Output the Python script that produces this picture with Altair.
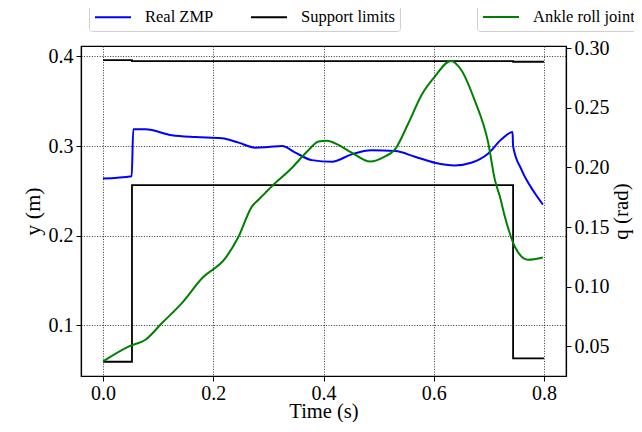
import altair as alt
import pandas as pd

# Real ZMP (left axis, m)
zmp_t = [0.0, 0.052, 0.0548, 0.077, 0.125, 0.168, 0.216, 0.246, 0.276, 0.300,
         0.325, 0.349, 0.379, 0.415, 0.451, 0.487, 0.530, 0.566, 0.602, 0.638,
         0.668, 0.699, 0.723, 0.743, 0.744, 0.759, 0.783, 0.798]
zmp_y = [0.2638, 0.2664, 0.3187, 0.3187, 0.3120, 0.3100, 0.3086, 0.3038, 0.2982, 0.2989,
         0.3000, 0.2926, 0.2843, 0.2825, 0.2907, 0.2952, 0.2944, 0.2881, 0.2814, 0.2784,
         0.2814, 0.2918, 0.3075, 0.3157, 0.3000, 0.2739, 0.2478, 0.2347]

# Support limits (left axis, m): lower and upper bounds as steps
sup_t = [0.0, 0.0525, 0.0525, 0.744, 0.744, 0.8]
sup_lower = [0.0592, 0.0592, 0.2563, 0.2563, 0.0630, 0.0630]
sup_upper = [0.3960, 0.3960, 0.3949, 0.3949, 0.3941, 0.3941]

# Ankle roll joint (right axis, rad)
ank_t = [0.0, 0.047, 0.077, 0.107, 0.143, 0.180, 0.222, 0.246, 0.270, 0.282,
         0.294, 0.312, 0.319, 0.342, 0.373, 0.391, 0.406, 0.427, 0.451, 0.485,
         0.511, 0.529, 0.554, 0.578, 0.602, 0.631, 0.650, 0.674, 0.699, 0.711,
         0.720, 0.729, 0.747, 0.771, 0.798]
ank_q = [0.0374, 0.0500, 0.0556, 0.0696, 0.0863, 0.1073, 0.1240, 0.1421, 0.1672, 0.1729,
         0.1785, 0.1868, 0.1896, 0.1994, 0.2147, 0.2217, 0.2223, 0.2189, 0.2125, 0.2049,
         0.2091, 0.2147, 0.2371, 0.2608, 0.2761, 0.2893, 0.2817, 0.2566, 0.2204, 0.1896,
         0.1756, 0.1589, 0.1338, 0.1226, 0.1245]

x_ticks = [0.0, 0.2, 0.4, 0.6, 0.8]
y_ticks = [0.1, 0.2, 0.3, 0.4]
q_ticks = [0.05, 0.10, 0.15, 0.20, 0.25, 0.30]

FONT = "Liberation Serif"

zmp_df = pd.DataFrame({"t": zmp_t, "y": zmp_y, "series": "Real ZMP"})
sup_rows = []
for i, t in enumerate(sup_t):
    sup_rows.append({"t": t, "y": sup_lower[i], "series": "Support limits", "bound": "lower", "idx": i})
    sup_rows.append({"t": t, "y": sup_upper[i], "series": "Support limits", "bound": "upper", "idx": i})
sup_df = pd.DataFrame(sup_rows)
ank_df = pd.DataFrame({"t": ank_t, "q": ank_q, "series": "Ankle roll joint"})

x_enc = alt.X("t:Q", scale=alt.Scale(domain=[-0.04, 0.84], nice=False, zero=False),
              axis=alt.Axis(values=x_ticks, format=".1f", title="Time (s)",
                            grid=True, gridColor="black", gridDash=[1, 1.6], gridWidth=0.8,
                            tickSize=5, tickColor="black", domainColor="black",
                            labelPadding=2, titleY=25, titleBaseline="top", titleFontSize=20.5))

legend_common = dict(orient="none", legendY=-53, direction="horizontal",
                     title=None, symbolType="stroke", symbolSize=1296,
                     symbolStrokeWidth=2, labelFontSize=16.5, labelOffset=13,
                     padding=5, strokeColor="#d0d0d0", fillColor="white", cornerRadius=3)

left_color = alt.Color("series:N",
                       scale=alt.Scale(domain=["Real ZMP", "Support limits"], range=["#0000ff", "#000000"]),
                       legend=alt.Legend(legendX=8, columnPadding=33, **legend_common))

y_enc = alt.Y("y:Q", scale=alt.Scale(domain=[0.0433, 0.4117], nice=False, zero=False),
              axis=alt.Axis(orient="left", values=y_ticks, format=".1f", title="y (m)",
                            grid=True, gridColor="black", gridDash=[1, 1.6], gridWidth=0.8,
                            tickSize=5, tickColor="black", domainColor="black",
                            labelPadding=3, titlePadding=4))

zmp_line = alt.Chart(zmp_df).mark_line(strokeWidth=2, interpolate="monotone").encode(
    x=x_enc, y=y_enc, color=left_color)
sup_line = alt.Chart(sup_df).mark_line(strokeWidth=1.8).encode(
    x=x_enc, y=y_enc, color=left_color, detail="bound:N", order="idx:Q")
left = alt.layer(zmp_line, sup_line)

right = alt.Chart(ank_df).mark_line(strokeWidth=2, interpolate="monotone").encode(
    x=x_enc,
    y=alt.Y("q:Q", scale=alt.Scale(domain=[0.0252, 0.3018], nice=False, zero=False),
            axis=alt.Axis(orient="right", values=q_ticks, format=".2f", title="q (rad)",
                          titleAngle=270, titleBaseline="top", titleFontSize=21,
                          grid=False, tickSize=5, tickColor="black",
                          domainColor="black", labelPadding=3, titlePadding=1)),
    color=alt.Color("series:N",
                    scale=alt.Scale(domain=["Ankle roll joint"], range=["#008000"]),
                    legend=alt.Legend(legendX=396, **legend_common)))

chart = alt.layer(left, right).resolve_scale(y="independent", color="independent").properties(
    width=485, height=330,
    autosize=alt.AutoSizeParams(type="none"),
    padding={"left": 73, "top": 38, "right": 68, "bottom": 46},
).configure(font=FONT).configure_view(stroke="black", strokeWidth=1.2).configure_axis(
    labelFont=FONT, titleFont=FONT, labelFontSize=20, titleFontSize=22,
    labelColor="black", titleColor="black", titleFontWeight="normal", domainWidth=1.2
).configure_legend(labelFont=FONT, labelColor="black")

chart.save("out.html", embed_options={"renderer": "svg", "actions": False})
